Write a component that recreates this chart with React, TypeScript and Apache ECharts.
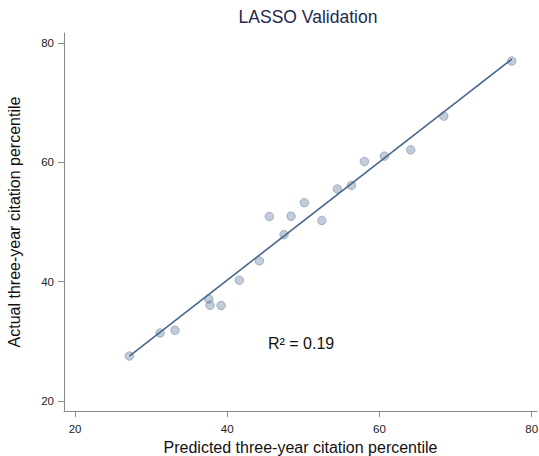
import React, { useEffect, useRef } from "react";
import * as echarts from "echarts";

const predicted = [27.14, 31.17, 33.14, 37.57, 37.74, 39.19, 41.59, 44.22, 45.53, 47.46, 48.38, 50.13, 52.43, 54.47, 56.33, 58.02, 60.64, 64.11, 68.45, 77.38];
const actual = [27.52, 31.39, 31.84, 37.09, 36.04, 35.99, 40.24, 43.48, 50.93, 47.88, 50.98, 53.25, 50.26, 55.55, 56.15, 60.17, 61.06, 62.12, 67.78, 77.01];
const fitX = [27.14, 77.4];
const fitY = [27.5, 77.35];
const tickValues = [20, 40, 60, 80];
const chartTitle = "LASSO Validation";
const xTitle = "Predicted three-year citation percentile";
const yTitle = "Actual three-year citation percentile";
const r2Label = "R\u00B2 = 0.19";

export default function App() {
  const ref = useRef<HTMLDivElement>(null);
  useEffect(() => {
    if (!ref.current) return;
    const chart = echarts.init(ref.current, null, { renderer: "svg" });
    const font = "'Liberation Sans', Arial, sans-serif";
    const axisCommon = {
      type: "value" as const,
      axisLine: { show: true, lineStyle: { color: "#8a8a8a", width: 1 } },
      axisTick: { show: true, inside: false, length: 6, customValues: tickValues, lineStyle: { color: "#8a8a8a" } },
      axisLabel: { customValues: tickValues, color: "#222", fontSize: 11.5, fontFamily: font },
      splitLine: { show: false },
      nameLocation: "middle" as const,
      nameTextStyle: { color: "#111", fontSize: 16, fontFamily: font },
    };
    chart.setOption({
      animation: false,
      backgroundColor: "#fff",
      title: {
        text: chartTitle,
        left: 303,
        textAlign: "center",
        top: 3,
        textStyle: { color: "#1c2b4f", fontSize: 17.5, fontWeight: "normal", fontFamily: font },
      },
      grid: { left: 64, top: 33, right: 2, bottom: 45, containLabel: false, outerBoundsMode: "none" },
      xAxis: {
        ...axisCommon,
        min: 18.55,
        max: 80.7,
        name: xTitle,
        nameGap: 28,
        axisLabel: { ...axisCommon.axisLabel, margin: 12 },
      },
      yAxis: {
        ...axisCommon,
        min: 18.29,
        max: 81.73,
        name: yTitle,
        nameGap: 42,
        axisLabel: { ...axisCommon.axisLabel, margin: 10 },
      },
      graphic: [
        {
          type: "text",
          x: 268,
          y: 343,
          style: { text: r2Label, fill: "#111", fontSize: 16, fontFamily: font, textVerticalAlign: "middle" },
        },
      ],
      series: [
        {
          type: "scatter",
          data: predicted.map((x, i) => [x, actual[i]]),
          symbol: "circle",
          symbolSize: 8.5,
          itemStyle: { color: "rgba(105,128,162,0.5)", borderColor: "rgba(85,108,145,0.55)", borderWidth: 1 },
          z: 2,
        },
        {
          type: "line",
          data: fitX.map((x, i) => [x, fitY[i]]),
          showSymbol: false,
          symbol: "none",
          lineStyle: { color: "#46668c", width: 1.6 },
          z: 3,
        },
      ],
    });
    return () => chart.dispose();
  }, []);
  return <div ref={ref} style={{ position: "fixed", left: 0, top: 0, width: 539, height: 456 }} />;
}
